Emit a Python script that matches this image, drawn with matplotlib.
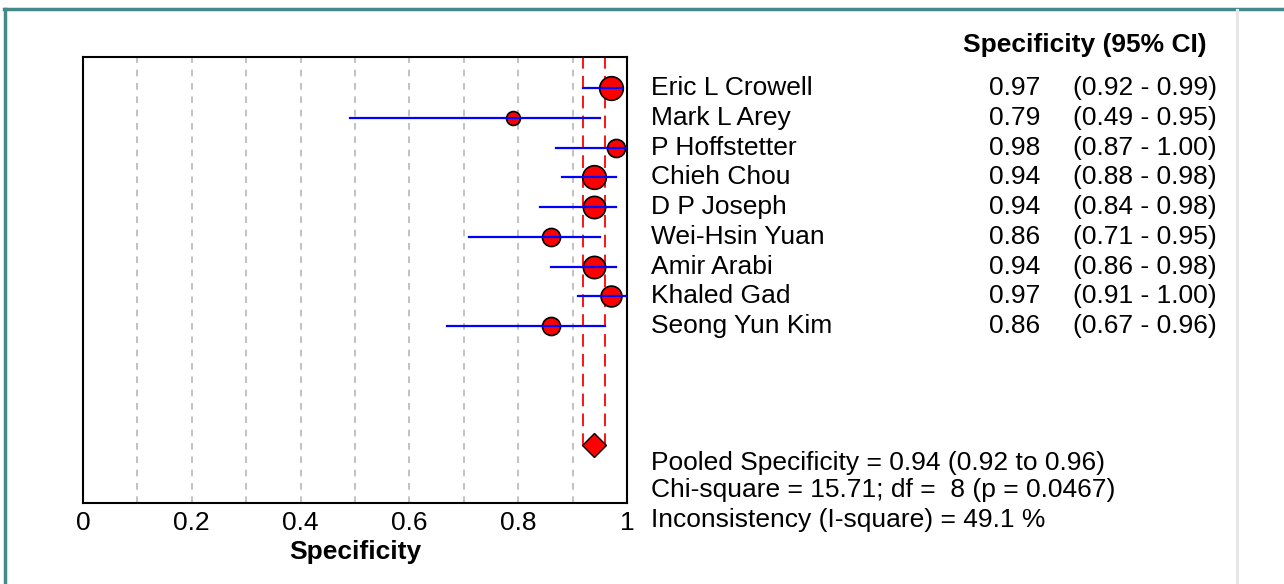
import matplotlib
matplotlib.use("Agg")
import matplotlib.pyplot as plt
import matplotlib.transforms as mtransforms
from matplotlib.lines import Line2D

plt.rcParams['font.family'] = ['Liberation Sans', 'DejaVu Sans']

# 1) Dados do forest plot
estudos = ["Eric L Crowell", "Mark L Arey", "P Hoffstetter", "Chieh Chou",
           "D P Joseph", "Wei-Hsin Yuan", "Amir Arabi", "Khaled Gad",
           "Seong Yun Kim"]
espec = [0.97, 0.79, 0.98, 0.94, 0.94, 0.86, 0.94, 0.97, 0.86]
ic_inf = [0.92, 0.49, 0.87, 0.88, 0.84, 0.71, 0.86, 0.91, 0.67]
ic_sup = [0.99, 0.95, 1.00, 0.98, 0.98, 0.95, 0.98, 1.00, 0.96]
peso = [17, 10, 13, 17, 16, 13, 16, 15, 13]   # tamanho do marcador (peso)

pooled = 0.94
pooled_inf = 0.92
pooled_sup = 0.96
estat = ["Pooled Specificity = 0.94 (0.92 to 0.96)",
         "Chi-square = 15.71; df =  8 (p = 0.0467)",
         "Inconsistency (I-square) = 49.1 %"]

x_ticks = [0, 0.2, 0.4, 0.6, 0.8, 1]
x_labels = ["0", "0.2", "0.4", "0.6", "0.8", "1"]

# 2) Figura
W, H = 1284, 584
fig = plt.figure(figsize=(W / 100, H / 100), dpi=100)
ax = fig.add_axes([83 / W, 1 - 503 / H, 544 / W, 446 / H])

linha_pool = len(estudos) + 3

# grade vertical
for g in range(1, 10):
    ax.axvline(g / 10, color="#b8b8b8", lw=1.2, ls=(0, (4, 4)), zorder=0)

# IC do pooled
for v in [pooled_inf, pooled_sup]:
    ax.vlines(v, -1.1, linha_pool, color="red", lw=1.3, ls=(0, (7, 4)), zorder=1)

# estudos
for i in range(len(estudos)):
    ax.plot(espec[i], i, "o", ms=peso[i], mfc="red", mec="black", mew=1.2,
            zorder=2, clip_on=False)
    ax.plot([ic_inf[i], ic_sup[i]], [i, i], color="blue", lw=1.6, zorder=3)

ax.plot(pooled, linha_pool, "D", ms=12, mfc="red", mec="black", mew=1, zorder=4)

ax.set_xlim(0, 1)
ax.set_ylim(13.95, -1.05)
ax.set_yticks([])
ax.set_xticks(x_ticks)
ax.set_xticklabels(x_labels, fontsize=19)
ax.tick_params(axis="x", length=0, pad=6)
ax.set_xlabel("Specificity", fontsize=19, fontweight="bold", labelpad=3)
for s in ax.spines.values():
    s.set_linewidth(1.5)
    s.set_color("black")

# 3) Textos da direita
trans = mtransforms.blended_transform_factory(fig.transFigure, ax.transData)
fig.text(963 / W, 1 - 45 / H, "Specificity (95% CI)", fontsize=19,
         fontweight="bold", va="center")
for i in range(len(estudos)):
    fig.text(651 / W, i, estudos[i], transform=trans, fontsize=19, va="center")
    fig.text(1040 / W, i, f"{espec[i]:.2f}", transform=trans, fontsize=19,
             va="center", ha="right")
    fig.text(1073 / W, i, f"({ic_inf[i]:.2f} - {ic_sup[i]:.2f})", transform=trans,
             fontsize=19, va="center")

for y, t in zip([463, 490, 520], estat):
    fig.text(651 / W, 1 - y / H, t, fontsize=19, va="center")

# 4) Moldura
fig.add_artist(Line2D([4 / W, 1], [1 - 9 / H, 1 - 9 / H], color="#458a8a", lw=2.5,
                      transform=fig.transFigure))
fig.add_artist(Line2D([5 / W, 5 / W], [0, 1 - 9 / H], color="#458a8a", lw=2.5,
                      transform=fig.transFigure))
fig.add_artist(Line2D([1237 / W, 1237 / W], [0, 1 - 10 / H], color="#e6e6e6", lw=2.2,
                      transform=fig.transFigure))

fig.savefig("out.png", dpi=100)
plt.close()
